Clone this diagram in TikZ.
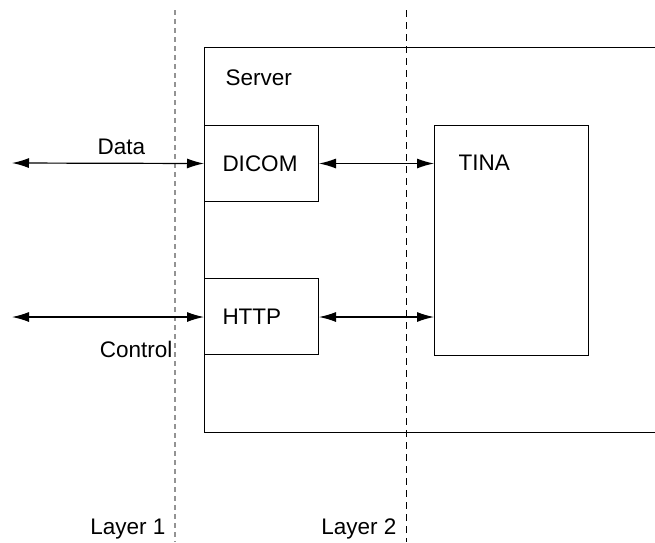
\documentclass[tikz,border=0pt]{standalone}
\usepackage{fontspec}
\setmainfont{Liberation Sans}
\usetikzlibrary{arrows.meta,positioning}
\tikzset{
	block/.style    = {draw, line width=1pt, rectangle, minimum width=114pt,
		minimum height=76pt, inner xsep=18pt, text width=78pt, align=left},
	frame/.style    = {draw, line width=1pt, rectangle, anchor=north west},
	layer/.style    = {line width=1.3pt, dash pattern=on 4.5pt off 4.5pt}, % Layer border
	link/.style     = {<->, line width=1.2pt}
}

\begin{document}
\begin{tikzpicture}[x=1pt, y=-1pt, >={Latex[length=17pt,width=10pt]},
	font=\fontsize{22.5}{26}\selectfont]
	\clip (0,0) rectangle (655,542);
	\draw
	node at (204,47) [frame, minimum width=520pt, minimum height=385pt] (server) {}
	node at (222,78) [anchor=west] (servertext) {Server}
	node at (204,125) [block, anchor=north west] (dicom) {DICOM}
	node at (204,278) [block, anchor=north west] (http) {HTTP}
	node at (434,125) [frame, minimum width=154pt, minimum height=230pt] (tina) {}
	node at (455,163) [anchor=west] (tinatext) {TINA};

	\coordinate (datain) at (12,163);
	\coordinate (ctrlin) at (12,317);
	\coordinate (l1top) at (175,10);
	\coordinate (l1bot) at (175,542);
	\coordinate (l2top) at (406,10);
	\coordinate (l2bot) at (406,542);

	% layer borders
	\draw[layer, gray!85](l1top)--(l1bot);
	\draw[layer, line width=1pt, dash pattern=on 7pt off 5pt](l2top)--(l2bot);
	\node at (169,529) [anchor=east] (layer1) {Layer 1};
	\node at (400,529) [anchor=east] (layer2) {Layer 2};

	\draw[link](datain)--node[pos=0.57, above=5pt]{Data}(dicom.west);
	\draw[link](ctrlin)--node[pos=0.646, below=20pt]{Control}(http.west|-ctrlin);
	\draw[link](dicom.east)--(tina.west|-dicom.east);
	\draw[link](http.east|-ctrlin)--(tina.west|-ctrlin);
\end{tikzpicture}
\end{document}
